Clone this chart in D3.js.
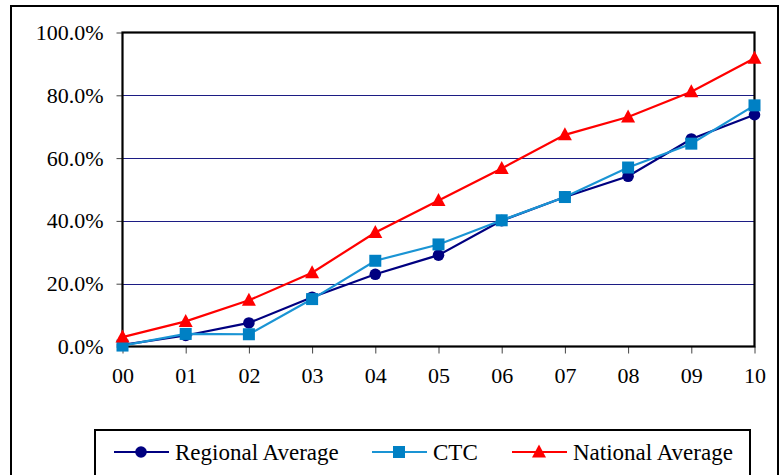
<!DOCTYPE html>
<html>
<head>
<meta charset="utf-8">
<script src="https://cdn.jsdelivr.net/npm/d3@7"></script>
<style>
  body { margin: 0; background: #fff; }
  svg { display: block; }
  text { font-family: "Liberation Serif", "Times New Roman", serif; fill: #000; }
</style>
</head>
<body>
<svg id="chart" width="783" height="475"></svg>
<script>
const categories = ["00","01","02","03","04","05","06","07","08","09","10"];
const regionalAverage = [0.5, 3.5, 7.5, 15.7, 23.0, 29.1, 40.1, 47.6, 54.2, 66.1, 73.8];
const ctc = [0.3, 4.0, 3.9, 15.1, 27.3, 32.5, 40.2, 47.6, 57.0, 64.6, 76.8];
const nationalAverage = [3.0, 8.0, 14.7, 23.5, 36.3, 46.5, 56.7, 67.4, 73.1, 81.1, 91.8];
const yTicks = [0, 20, 40, 60, 80, 100];
const seriesNames = ["Regional Average", "CTC", "National Average"];

const svg = d3.select("#chart");
const pLeft = 122.5, pRight = 754.5, pTop = 32.5, pBottom = 346.5;

// outer frame
svg.append("rect").attr("x", 11).attr("y", 6).attr("width", 767).attr("height", 480)
  .attr("fill", "none").attr("stroke", "#000").attr("stroke-width", 2);

const x = d3.scalePoint().domain(categories).range([pLeft, pRight]);
const y = d3.scaleLinear().domain([0, 100]).range([pBottom, pTop]);

// gridlines
svg.append("g").selectAll("line").data(yTicks.filter(d => d > 0 && d < 100)).join("line")
  .attr("x1", pLeft).attr("x2", pRight)
  .attr("y1", d => Math.round(y(d)) + 0.5).attr("y2", d => Math.round(y(d)) + 0.5)
  .attr("stroke", "#1c1c84").attr("stroke-width", 1);

// y axis
const yAxis = d3.axisLeft(y).tickValues(yTicks).tickSize(6).tickPadding(13)
  .tickFormat(d => d.toFixed(1) + "%");
const gy = svg.append("g").attr("transform", `translate(${pLeft},0)`).call(yAxis);
gy.select(".domain").remove();
gy.selectAll(".tick line").attr("stroke", "#444");
gy.selectAll("text").attr("font-size", 22).attr("font-family", "Liberation Serif").attr("fill", "#000");

// x axis
const xAxis = d3.axisBottom(x).tickSize(7).tickPadding(14);
const gx = svg.append("g").attr("transform", `translate(0,${pBottom})`).call(xAxis);
gx.select(".domain").remove();
gx.selectAll(".tick line").attr("stroke", "#444");
gx.selectAll("text").attr("font-size", 22).attr("font-family", "Liberation Serif").attr("fill", "#000");

// plot border
svg.append("rect").attr("x", pLeft).attr("y", pTop).attr("width", pRight - pLeft).attr("height", pBottom - pTop)
  .attr("fill", "none").attr("stroke", "#000").attr("stroke-width", 2.2);

const series = [
  { name: seriesNames[0], values: regionalAverage, line: "#000080", fill: "#000080", shape: "circle" },
  { name: seriesNames[1], values: ctc, line: "#1a94d4", fill: "#0080c4", shape: "square" },
  { name: seriesNames[2], values: nationalAverage, line: "#ff0000", fill: "#ff0000", shape: "triangle" }
];

function drawMarker(g, shape, fill) {
  if (shape === "circle") g.append("circle").attr("r", 5.8).attr("fill", fill);
  else if (shape === "square") g.append("rect").attr("x", -6).attr("y", -6).attr("width", 12).attr("height", 12).attr("fill", fill);
  else g.append("path").attr("d", "M0,-7.5L7,5.5L-7,5.5Z").attr("fill", fill);
}

const line = d3.line().x((d, i) => x(categories[i])).y(d => y(d));
series.forEach(s => {
  const g = svg.append("g");
  g.append("path").attr("d", line(s.values)).attr("fill", "none")
    .attr("stroke", s.line).attr("stroke-width", 2.2);
  s.values.forEach((v, i) => {
    const m = g.append("g").attr("transform", `translate(${x(categories[i])},${y(v)})`);
    drawMarker(m, s.shape, s.fill);
  });
});

// legend
svg.append("rect").attr("x", 95).attr("y", 430).attr("width", 655).attr("height", 60)
  .attr("fill", "#fff").attr("stroke", "#000").attr("stroke-width", 2);
const legendX = [114, 372, 512];
series.forEach((s, i) => {
  const g = svg.append("g").attr("transform", `translate(${legendX[i]},452)`);
  g.append("line").attr("x1", 0).attr("x2", 55).attr("stroke", s.line).attr("stroke-width", 2.2);
  const m = g.append("g").attr("transform", "translate(27,0)");
  drawMarker(m, s.shape, s.fill);
  g.append("text").attr("x", 61).attr("y", 7.5).attr("font-size", 23).text(s.name);
});
</script>
</body>
</html>
